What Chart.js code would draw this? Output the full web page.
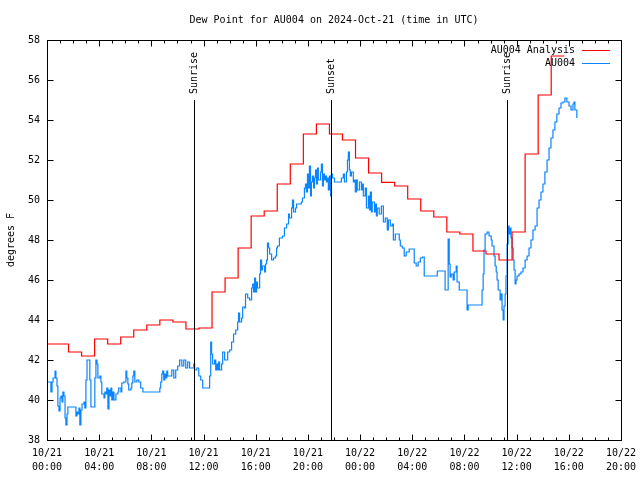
<!DOCTYPE html>
<html>
<head>
<meta charset="utf-8">
<title>Dew Point for AU004</title>
<script src="https://cdn.jsdelivr.net/npm/chart.js@4.4.1/dist/chart.umd.min.js"></script>
<style>
  body { margin: 0; background: #fff; }
  canvas { display: block; }
</style>
</head>
<body>
<canvas id="chart" width="640" height="480"></canvas>
<script>
// minutes since 10/21 00:00 UTC, dew point in F
const redMinutes = [0, 99, 159, 219, 279, 339, 399, 459, 519, 579, 639, 699, 759, 819, 879, 939, 999, 1059, 1119, 1179,
  1239, 1299, 1359, 1419, 1479, 1539, 1599, 1659, 1719, 1779, 1839, 1899, 1959, 2019, 2079, 2139, 2199, 2259, 2319, 2379];
const redValues = [42.8, 42.4, 42.2, 43.05, 42.8, 43.15, 43.5, 43.75, 44.0, 43.9, 43.55, 43.6, 45.4, 46.1, 47.6, 49.2, 49.45, 50.8, 51.8, 53.3,
  53.8, 53.3, 53.0, 52.1, 51.35, 50.88, 50.7, 50.05, 49.45, 49.15, 48.4, 48.3, 47.45, 47.3, 47.0, 48.4, 52.3, 55.25, 57.2, 57.2];

const blueMinutes = [0, 14, 18, 23, 28, 37, 41, 46, 50, 55, 60, 64, 69, 73, 78, 83, 87, 92, 96, 115,
  129, 133, 138, 142, 147, 151, 156, 161, 170, 174, 179, 184, 193, 197, 202, 216, 220, 225, 230, 234,
  243, 248, 252, 262, 266, 271, 275, 280, 285, 289, 294, 298, 303, 308, 317, 326, 330, 340, 344, 353,
  363, 367, 372, 376, 386, 390, 395, 399, 404, 413, 422, 431, 441, 514, 519, 523, 528, 532, 537, 542,
  546, 551, 555, 565, 574, 583, 592, 601, 610, 620, 629, 638, 647, 656, 666, 675, 679, 689, 698, 707,
  716, 744, 748, 753, 757, 762, 771, 776, 780, 785, 789, 794, 803, 808, 817, 826, 831, 840, 849, 858,
  868, 877, 881, 886, 895, 900, 909, 913, 923, 932, 941, 946, 950, 955, 959, 964, 968, 978, 982, 987,
  991, 1001, 1005, 1010, 1014, 1019, 1024, 1033, 1042, 1051, 1056, 1060, 1069, 1083, 1092, 1102, 1111, 1115, 1125, 1129,
  1134, 1143, 1148, 1161, 1170, 1175, 1184, 1189, 1193, 1198, 1203, 1207, 1212, 1216, 1221, 1226, 1230, 1235, 1239, 1244,
  1248, 1258, 1262, 1267, 1271, 1276, 1281, 1285, 1290, 1294, 1299, 1304, 1308, 1313, 1322, 1349, 1354, 1363, 1368, 1377,
  1382, 1386, 1391, 1395, 1400, 1409, 1414, 1418, 1423, 1427, 1437, 1446, 1450, 1455, 1464, 1469, 1478, 1483, 1487, 1492,
  1496, 1506, 1510, 1515, 1519, 1528, 1538, 1547, 1556, 1565, 1570, 1579, 1588, 1593, 1602, 1611, 1620, 1625, 1634, 1643,
  1652, 1666, 1680, 1689, 1698, 1707, 1717, 1726, 1735, 1790, 1795, 1827, 1831, 1841, 1845, 1850, 1854, 1859, 1868, 1873,
  1882, 1886, 1896, 1928, 1932, 1937, 1997, 2001, 2006, 2010, 2015, 2024, 2033, 2043, 2047, 2056, 2061, 2066, 2070, 2075,
  2084, 2088, 2093, 2098, 2102, 2107, 2111, 2116, 2121, 2125, 2130, 2134, 2139, 2144, 2148, 2153, 2157, 2162, 2171, 2180,
  2189, 2199, 2208, 2217, 2226, 2235, 2245, 2254, 2263, 2272, 2281, 2290, 2300, 2309, 2318, 2327, 2336, 2345, 2355, 2364,
  2373, 2382, 2391, 2401, 2410, 2419, 2424, 2428, 2437];
const blueValues = [40.9, 40.9, 40.4, 40.9, 41.1, 41.45, 41.1, 40.7, 39.7, 39.45, 40.1, 40.2, 39.9, 40.4, 40.2, 39.1, 38.75, 39.3, 39.65, 39.65,
  39.65, 39.2, 39.4, 39.3, 39.6, 38.75, 39.5, 39.8, 39.9, 39.6, 41.0, 42.0, 42.0, 41.0, 39.65, 39.65, 41.1, 42.0, 41.8, 41.1,
  41.2, 40.9, 40.3, 40.1, 40.4, 40.3, 40.6, 39.55, 40.5, 40.2, 40.6, 40.0, 40.4, 40.0, 40.3, 40.4, 40.6, 40.4, 40.85, 40.9,
  41.45, 41.1, 40.8, 40.5, 40.6, 40.85, 41.2, 41.45, 40.9, 41.0, 40.9, 40.6, 40.4, 40.4, 40.6, 40.9, 41.3, 41.45, 41.0, 41.3,
  41.1, 41.45, 41.2, 41.2, 41.5, 41.1, 41.5, 41.7, 42.0, 41.7, 42.0, 41.6, 41.9, 41.6, 41.6, 41.8, 41.5, 41.6, 41.2, 41.0,
  40.6, 40.6, 41.2, 42.9, 42.3, 41.8, 42.0, 41.5, 41.8, 41.5, 41.9, 41.5, 41.8, 42.4, 42.0, 42.0, 42.4, 42.5, 42.9, 43.3,
  43.5, 43.9, 44.35, 43.9, 44.1, 44.65, 44.6, 45.3, 45.1, 45.0, 45.6, 45.8, 45.4, 46.1, 45.4, 45.9, 45.6, 46.3, 47.0, 46.5,
  46.7, 46.4, 46.8, 47.0, 47.85, 47.6, 47.3, 47.0, 47.1, 47.2, 47.6, 47.7, 48.1, 48.2, 48.6, 48.8, 49.3, 49.1, 49.6, 50.0,
  49.4, 49.6, 49.8, 49.8, 49.9, 50.1, 50.6, 50.8, 50.4, 51.3, 50.6, 51.7, 50.2, 50.9, 51.2, 50.6, 51.1, 51.5, 50.8, 51.6,
  51.0, 51.4, 51.8, 50.7, 51.3, 51.0, 51.2, 50.9, 51.1, 50.5, 51.2, 50.2, 51.3, 51.1, 50.9, 50.9, 51.1, 51.3, 50.9, 51.4,
  52.0, 52.4, 51.5, 51.2, 51.4, 50.9, 51.0, 50.4, 51.0, 50.5, 50.9, 50.5, 50.8, 50.2, 50.6, 49.6, 50.2, 49.5, 50.4, 49.4,
  49.9, 49.4, 49.8, 49.2, 49.6, 49.3, 49.7, 48.9, 49.1, 48.5, 49.0, 48.7, 48.8, 48.0, 48.3, 48.3, 48.0, 47.7, 47.6, 47.2,
  47.4, 47.55, 47.55, 46.85, 46.7, 46.9, 47.1, 47.15, 46.2, 46.2, 46.45, 46.45, 45.5, 45.5, 48.05, 46.8, 46.15, 46.3, 46.0, 46.4,
  46.7, 45.9, 45.5, 45.5, 44.5, 44.75, 44.75, 45.5, 46.3, 47.5, 48.3, 48.4, 48.2, 48.0, 47.7, 47.2, 46.7, 46.4, 46.0, 45.5,
  45.0, 45.3, 44.5, 44.0, 44.7, 45.3, 46.2, 47.8, 48.7, 48.3, 48.6, 48.1, 47.6, 47.0, 46.5, 45.8, 46.0, 46.2, 46.3, 46.4,
  46.6, 47.0, 47.2, 47.6, 48.0, 48.5, 48.7, 49.6, 50.0, 50.4, 50.8, 51.4, 52.0, 52.6, 53.1, 53.5, 53.9, 54.3, 54.6, 54.85,
  54.9, 55.1, 54.9, 54.7, 54.5, 54.8, 54.9, 54.5, 54.1];

const xTickDates = ['10/21', '10/21', '10/21', '10/21', '10/21', '10/21', '10/22', '10/22', '10/22', '10/22', '10/22', '10/22'];
const xTickTimes = ['00:00', '04:00', '08:00', '12:00', '16:00', '20:00', '00:00', '04:00', '08:00', '12:00', '16:00', '20:00'];

const eventMinutes = [675, 1308, 2116];
const eventLabels = ['Sunrise', 'Sunset', 'Sunrise'];
const eventTop = 55;

const FAMILY = '"DejaVu Sans Mono", monospace';
const FONT = '10px ' + FAMILY;

function pts(xs, ys) {
  return xs.map((x, i) => ({x: x, y: ys[i]}));
}

// gnuplot style frame, inward ticks, events, legend and titles
const gnuplotBits = {
  id: 'gnuplotBits',
  afterDatasetsDraw(chart) {
    const ctx = chart.ctx;
    const a = chart.chartArea;
    const x = chart.scales.x, y = chart.scales.y;
    ctx.save();
    ctx.strokeStyle = '#000';
    ctx.fillStyle = '#000';
    ctx.lineWidth = 1;
    ctx.font = FONT;

    eventMinutes.forEach((m, i) => {
      const px = Math.round(x.getPixelForValue(m)) + 0.5;
      const top = Math.round(y.getPixelForValue(eventTop));
      ctx.beginPath();
      ctx.moveTo(px, top);
      ctx.lineTo(px, a.bottom);
      ctx.stroke();
      ctx.save();
      ctx.translate(px, top - 6);
      ctx.rotate(-Math.PI / 2);
      ctx.textAlign = 'left';
      ctx.textBaseline = 'middle';
      ctx.fillText(eventLabels[i], 0, 0);
      ctx.restore();
    });

    const L = Math.round(a.left) + 0.5, R = Math.round(a.right) + 0.5;
    const T = Math.round(a.top) + 0.5, B = Math.round(a.bottom) + 0.5;
    ctx.strokeRect(L, T, R - L, B - T);

    ctx.beginPath();
    x.ticks.forEach(t => {
      const px = Math.round(x.getPixelForValue(t.value)) + 0.5;
      const len = t.value % 240 === 0 ? 6 : 3;
      ctx.moveTo(px, B); ctx.lineTo(px, B - len);
      ctx.moveTo(px, T); ctx.lineTo(px, T + len);
    });
    y.ticks.forEach(t => {
      const py = Math.round(y.getPixelForValue(t.value)) + 0.5;
      ctx.moveTo(L, py); ctx.lineTo(L + 6, py);
      ctx.moveTo(R, py); ctx.lineTo(R - 6, py);
    });
    ctx.stroke();

    // legend
    chart.data.datasets.forEach((ds, i) => {
      const ly = 50 + i * 13;
      ctx.textAlign = 'right';
      ctx.textBaseline = 'middle';
      ctx.fillStyle = '#000';
      ctx.fillText(ds.label, 575, ly);
      ctx.strokeStyle = ds.borderColor;
      ctx.beginPath();
      ctx.moveTo(582, ly + 0.5);
      ctx.lineTo(610, ly + 0.5);
      ctx.stroke();
    });

    // title and y label
    ctx.fillStyle = '#000';
    ctx.textAlign = 'center';
    ctx.textBaseline = 'middle';
    ctx.fillText('Dew Point for AU004 on 2024-Oct-21 (time in UTC)', (a.left + a.right) / 2, 20);
    ctx.save();
    ctx.translate(11, (a.top + a.bottom) / 2);
    ctx.rotate(-Math.PI / 2);
    ctx.fillText('degrees F', 0, 0);
    ctx.restore();
    ctx.restore();
  }
};

Chart.defaults.font.family = FAMILY;
Chart.defaults.font.size = 10;
Chart.defaults.color = '#000';

new Chart(document.getElementById('chart'), {
  type: 'line',
  data: {
    datasets: [
      {
        label: 'AU004 Analysis',
        data: pts(redMinutes, redValues),
        borderColor: '#ff0000',
        borderWidth: 1.2,
        pointRadius: 0,
        stepped: true
      },
      {
        label: 'AU004',
        data: pts(blueMinutes, blueValues),
        borderColor: '#0a84ff',
        borderWidth: 1.2,
        pointRadius: 0,
        stepped: true
      }
    ]
  },
  options: {
    responsive: false,
    animation: false,
    layout: {padding: {top: 40, right: 19, left: 0, bottom: 0}},
    plugins: {
      legend: {display: false},
      title: {display: false},
      tooltip: {enabled: false}
    },
    scales: {
      x: {
        type: 'linear',
        min: 0,
        max: 2640,
        afterFit(s) {
          s.height = 40;
          s.paddingLeft = 0;
          s.paddingRight = 0;
        },
        grid: {display: false, drawTicks: false},
        border: {display: false},
        ticks: {
          stepSize: 60,
          autoSkip: false,
          maxRotation: 0,
          padding: 6,
          font: {size: 10, lineHeight: 1.4},
          callback(v) {
            if (v % 240 !== 0) return '';
            const k = v / 240;
            return [xTickDates[k], xTickTimes[k]];
          }
        }
      },
      y: {
        min: 38,
        max: 58,
        afterFit(s) { s.width = 47; },
        grid: {display: false, drawTicks: false},
        border: {display: false},
        ticks: {stepSize: 2, padding: 7}
      }
    }
  },
  plugins: [gnuplotBits]
});
</script>
</body>
</html>
